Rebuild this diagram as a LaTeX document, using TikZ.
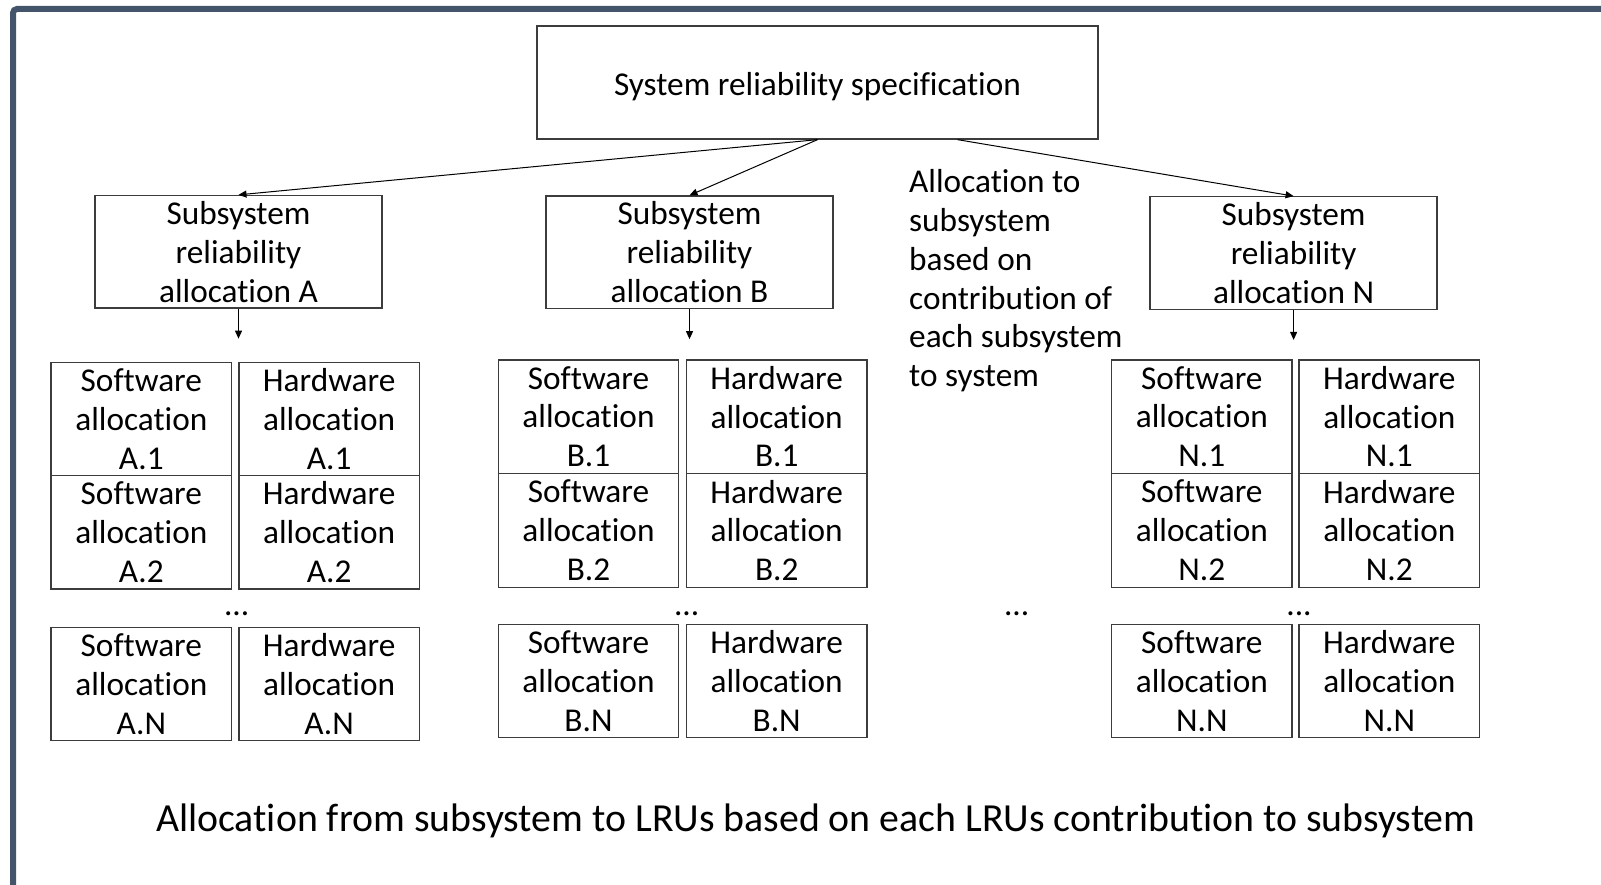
\documentclass[tikz,border=0pt]{standalone}
\usepackage{fontspec}
\setmainfont{Carlito}[Ligatures=NoCommon]
\usetikzlibrary{arrows.meta}

\definecolor{framecol}{HTML}{44546A}
\definecolor{boxline}{HTML}{3C3C3C}

\tikzset{
  boxtext/.style={font=\fontsize{33.3}{38.9}\selectfont, align=center, inner sep=0pt,
                  execute at begin node=\rule{0pt}{27pt}},
  specbox/.style={draw=boxline, line width=1.3pt, boxtext},
  allocbox/.style={draw=boxline, line width=1.3pt, boxtext,
                   minimum width=180.5pt, minimum height=113.5pt},
  link/.style={draw=black, line width=1pt,
               -{Triangle[length=8pt,width=7pt]}},
  dots/.style={font=\fontsize{33.3}{38.9}\selectfont, inner sep=0pt}
}

% One column pair of software / hardware allocations for a subsystem
% #1 letter, #2 software x, #3 hardware x, #4 row-1 y, #5 row-2 y, #6 last-row y
\newcommand{\allocpair}[6]{%
  \node[allocbox] (sw-#1-1) at (#2,#4) {Software\\allocation\\#1.1};
  \node[allocbox] (hw-#1-1) at (#3,#4) {Hardware\\allocation\\#1.1};
  \node[allocbox] (sw-#1-2) at (#2,#5) {Software\\allocation\\#1.2};
  \node[allocbox] (hw-#1-2) at (#3,#5) {Hardware\\allocation\\#1.2};
  \node[allocbox] (sw-#1-N) at (#2,#6) {Software\\allocation\\#1.N};
  \node[allocbox] (hw-#1-N) at (#3,#6) {Hardware\\allocation\\#1.N};
}

\begin{document}
\begin{tikzpicture}[x=1pt, y=-1pt]
  \useasboundingbox (0,0) rectangle (1601,885);

  % slide frame, only its top and left edges fall inside the page
  \begin{scope}
    \clip (0,0) rectangle (1601,885);
    \draw[framecol, line width=6pt, rounded corners=4pt]
      (13,9) rectangle (1700,1000);
  \end{scope}

  % system level
  \node[specbox, minimum width=561pt, minimum height=113pt,
        execute at begin node=\rule{0pt}{32pt}]
    (top) at (817.5,82.5) {System reliability specification};

  % subsystem level
  \node[specbox, minimum width=287pt, minimum height=112.5pt]
    (subA) at (238.5,251.75) {Subsystem\\reliability\\allocation A};
  \node[specbox, minimum width=287pt, minimum height=112.5pt]
    (subB) at (689.5,252.25) {Subsystem\\reliability\\allocation B};
  \node[specbox, minimum width=287pt, minimum height=112.5pt]
    (subN) at (1293.6,253) {Subsystem\\reliability\\allocation N};

  \draw[link] (top.south) -- (subA.north);
  \draw[link] (top.south) -- (subB.north);
  \draw[link] ([xshift=140pt]top.south) -- (subN.north);

  % note on the subsystem allocation
  \node[boxtext, align=left, anchor=north west] (note) at (909,169)
    {Allocation to\\subsystem\\based on\\contribution of\\each subsystem\\to system};

  % allocation down to LRUs
  \path (subA.south) ++(0,30) coordinate (endA);
  \path (subB.south) ++(0,30) coordinate (endB);
  \path (subN.south) ++(0,30) coordinate (endN);
  \draw[link] (subA.south) -- (endA);
  \draw[link] (subB.south) -- (endB);
  \draw[link] (subN.south) -- (endN);

  \allocpair{A}{141.35}{329.15}{419}{532.35}{684}
  \allocpair{B}{588.5}{776.7}{416.65}{530.5}{681}
  \allocpair{N}{1201.85}{1389.3}{416.65}{530.5}{681}

  \node[dots] (dotsA) at (236.7,614) {...};
  \node[dots] (dotsB) at (686.7,614) {...};
  \node[dots] (dotsM) at (1016.7,614) {...};
  \node[dots] (dotsN) at (1299,614) {...};

  \node[font=\fontsize{39.8}{46}\selectfont, inner sep=0pt, anchor=base]
    (caption) at (816,831)
    {Allocation from subsystem to LRUs based on each LRUs contribution to subsystem};
\end{tikzpicture}
\end{document}
